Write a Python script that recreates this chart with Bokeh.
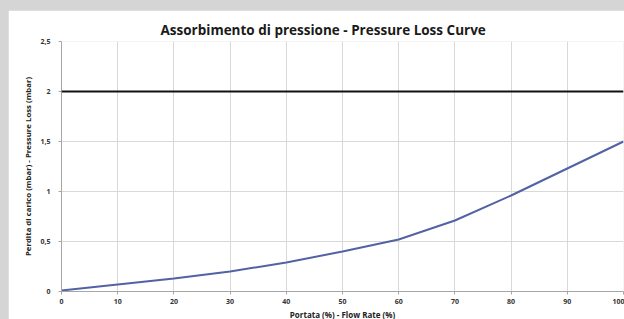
from bokeh.plotting import figure
from bokeh.models import Range1d, FixedTicker, Span, Title
from bokeh.embed import file_html
from bokeh.resources import INLINE

# Data
flow_rate = [0, 10, 20, 30, 40, 50, 60, 70, 80, 90, 100]
pressure_loss = [0.01, 0.07, 0.13, 0.20, 0.29, 0.40, 0.52, 0.71, 0.96, 1.23, 1.50]
max_pressure = 2.0
x_ticks = [0, 10, 20, 30, 40, 50, 60, 70, 80, 90, 100]
y_ticks = [0, 0.5, 1, 1.5, 2, 2.5]
y_tick_labels = ["0", "0,5", "1", "1,5", "2", "2,5"]

title_text = "Assorbimento di pressione - Pressure Loss Curve"
x_label = "Portata (%) - Flow Rate (%)"
y_label = "Perdita di carico (mbar) - Pressure Loss (mbar)"

p = figure(width=616, height=312, output_backend="svg", toolbar_location=None,
           x_range=Range1d(0, 100), y_range=Range1d(0, 2.5),
           min_border_left=53, min_border_right=1, min_border_top=31, min_border_bottom=30)

p.background_fill_color = "white"
p.border_fill_color = "white"
p.outline_line_color = None

t = Title(text=title_text, align="left", offset=99, text_font="Open Sans",
          text_font_size="13.5px", text_font_style="bold", text_color="#1a1a1a", standoff=5)
p.add_layout(t, "above")

p.line(flow_rate, pressure_loss, line_color="#5262a4", line_width=2)
p.add_layout(Span(location=max_pressure, dimension="width", line_color="#111111", line_width=2))

for ax in (p.xaxis[0], p.yaxis[0]):
    ax.axis_line_color = "#a6a6a6"
    ax.major_tick_line_color = "#a6a6a6"
    ax.major_tick_out = 3
    ax.major_tick_in = 0
    ax.minor_tick_line_color = None
    ax.major_label_text_font = "Open Sans"
    ax.major_label_text_font_size = "7px"
    ax.major_label_text_font_style = "bold"
    ax.major_label_text_color = "#333333"
    ax.axis_label_text_font = "Open Sans"
    ax.axis_label_text_font_style = "bold"
    ax.axis_label_text_color = "#222222"

p.xaxis.ticker = FixedTicker(ticks=x_ticks)
p.yaxis.ticker = FixedTicker(ticks=y_ticks)
p.yaxis.major_label_overrides = {tk: lb for tk, lb in zip(y_ticks, y_tick_labels)}
p.xaxis.axis_label = x_label
p.yaxis.axis_label = y_label
p.xaxis.axis_label_text_font_size = "8px"
p.yaxis.axis_label_text_font_size = "7.8px"
p.xaxis.major_label_standoff = 4
p.xaxis.axis_label_standoff = 2
p.yaxis.major_label_standoff = 8
p.yaxis.axis_label_standoff = 4
p.yaxis.major_label_orientation = "horizontal"

p.xgrid.grid_line_color = "#d9d9d9"
p.ygrid.grid_line_color = "#d9d9d9"
p.xgrid.grid_line_width = 1
p.ygrid.grid_line_width = 1

html = file_html(p, INLINE)
style = "<style>html,body{background-color:#d5d5d5 !important; overflow:hidden;} body{margin:0 !important; padding:10px 0 0 8px !important;}</style>"
html = html.replace("</head>", style + "</head>", 1)
open("out.html", "w").write(html)
